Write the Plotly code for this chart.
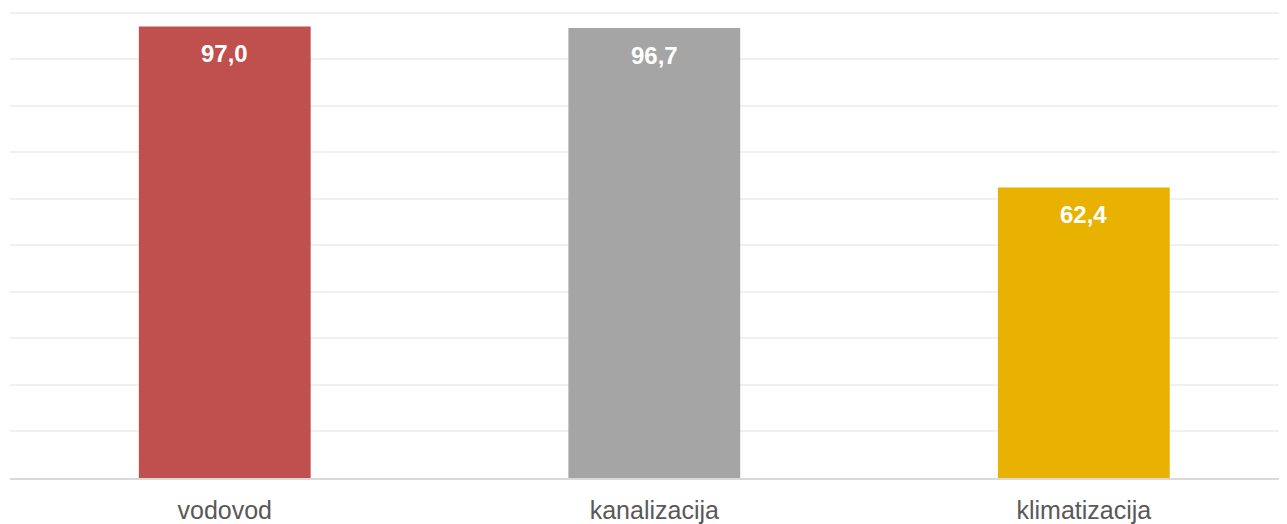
import plotly.graph_objects as go

categories = ["vodovod", "kanalizacija", "klimatizacija"]
values = [97.0, 96.7, 62.4]
colors = ["#C0504D", "#A5A5A5", "#E9B200"]
labels = ["97,0", "96,7", "62,4"]

fig = go.Figure()
fig.add_trace(go.Bar(
    x=categories, y=values, width=0.4,
    marker=dict(color=colors, line=dict(width=0)),
    hoverinfo="skip",
))

for c, v, t in zip(categories, values, labels):
    fig.add_annotation(
        x=c, y=v, text=t, showarrow=False, yanchor="middle", yshift=-27,
        font=dict(family="Liberation Sans, Arial, sans-serif", size=24, color="white", weight="bold"),
    )

fig.update_layout(
    width=1279, height=516,
    margin=dict(l=2, r=0, t=0, b=41),
    paper_bgcolor="white", plot_bgcolor="white",
    showlegend=False,
    font=dict(family="Liberation Sans, Arial, sans-serif"),
    xaxis=dict(
        range=[-0.5, 2.473], showgrid=False, zeroline=False,
        showline=True, linecolor="#D9D9D9", linewidth=2,
        ticks="", tickfont=dict(size=25, color="#595959"),
        ticklabelstandoff=9,
    ),
    yaxis=dict(
        range=[0, 101], dtick=10, showticklabels=False,
        showgrid=True, gridcolor="#F0F0F0", gridwidth=2,
        zeroline=False, showline=False, ticks="",
    ),
)

fig.write_html("out.html")
